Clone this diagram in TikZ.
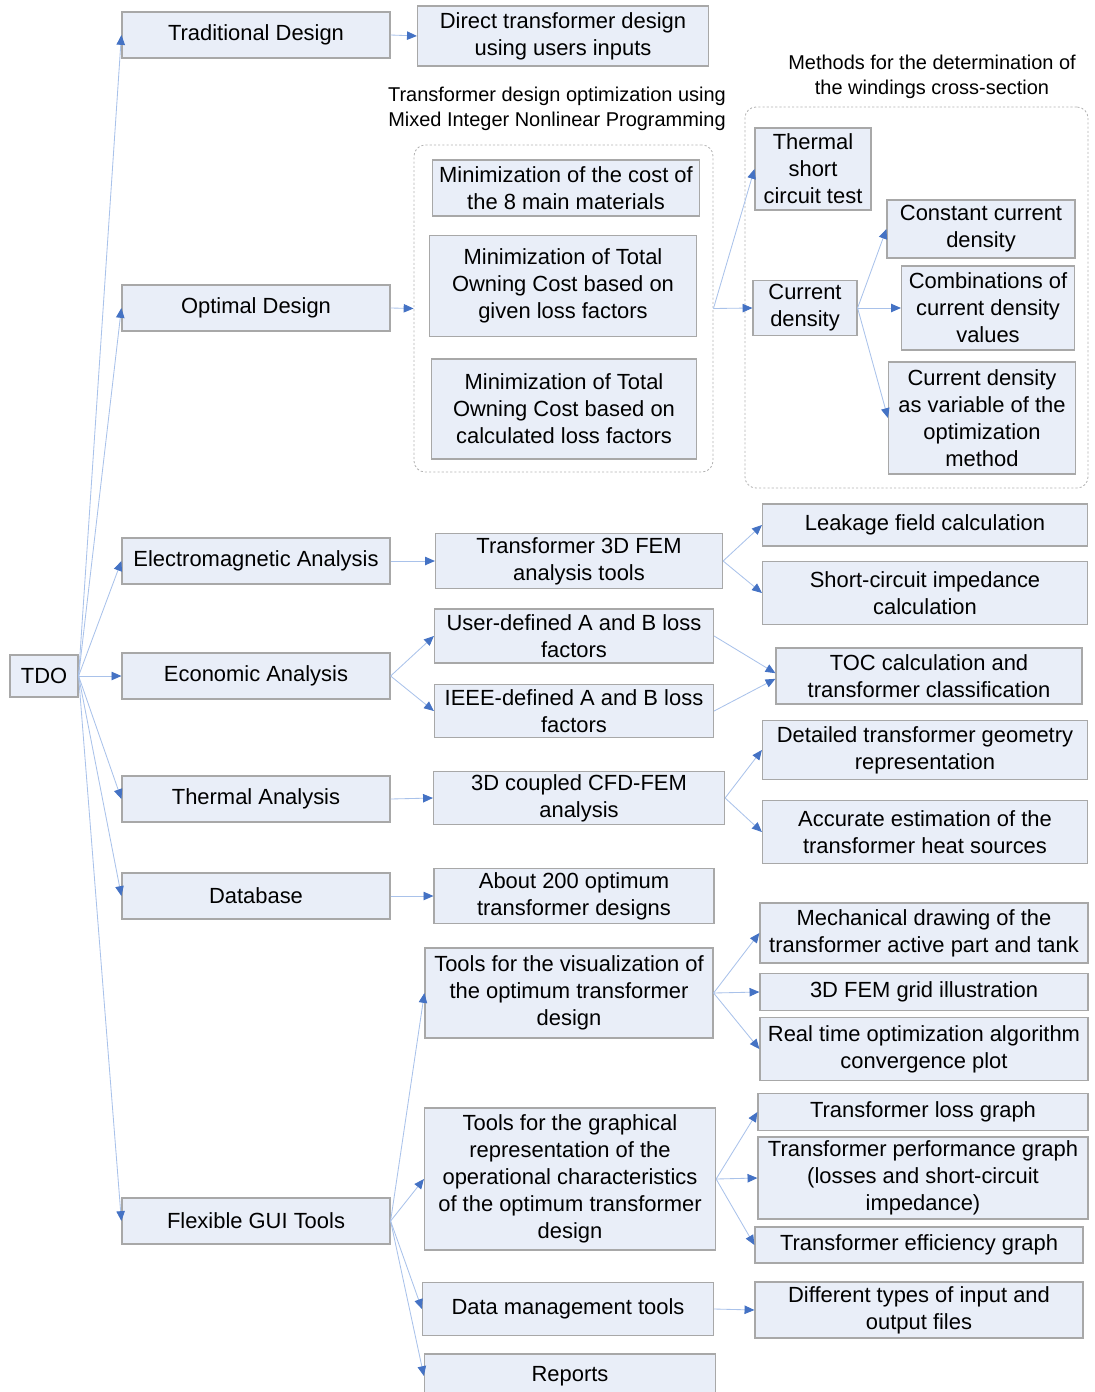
\documentclass[tikz,border=0pt]{standalone}
\usepackage{fontspec}
\setmainfont{Liberation Sans}
\usetikzlibrary{arrows.meta}
\definecolor{boxfill}{HTML}{E9EEF8}
\definecolor{boxline}{HTML}{A8A8A8}
\definecolor{linkblue}{HTML}{A9C2EA}
\definecolor{tipblue}{HTML}{4472C4}

\begin{document}
\begin{tikzpicture}[
    x=0.025cm, y=-0.025cm,
    tdo-box/.style = {draw=boxline, fill=boxfill, line width=0.8pt, align=center, inner sep=0pt, font=\fontsize{15.6}{19.2}\selectfont},
    grp-box/.style = {draw=gray!60, dash pattern=on 1.5pt off 1.5pt, rounded corners=8pt, line width=0.6pt, inner sep=0pt},
    grp-lbl/.style = {align=center, inner sep=0pt, font=\fontsize{14.2}{17.8}\selectfont},
    link/.style = {draw=linkblue, line width=0.6pt, -{Triangle[length=7pt, width=6pt, color=tipblue]}}
  ]
  \useasboundingbox (0,0) rectangle (1094,1392);

  \node[tdo-box, minimum width=1.7cm, minimum height=1.05cm] (tdo) at (44,676) {TDO};

  \node[tdo-box, minimum width=6.7cm, minimum height=1.15cm] (trad) at (256,35) {Traditional Design};
  \node[tdo-box, minimum width=6.7cm, minimum height=1.15cm] (opt) at (256,308) {Optimal Design};
  \node[tdo-box, minimum width=6.7cm, minimum height=1.15cm] (em) at (256,561) {Electromagnetic Analysis};
  \node[tdo-box, minimum width=6.7cm, minimum height=1.15cm] (eco) at (256,676) {Economic Analysis};
  \node[tdo-box, minimum width=6.7cm, minimum height=1.15cm] (therm) at (256,799) {Thermal Analysis};
  \node[tdo-box, minimum width=6.7cm, minimum height=1.15cm] (dbase) at (256,896) {Database};
  \node[tdo-box, minimum width=6.7cm, minimum height=1.15cm] (gui) at (256,1221) {Flexible GUI Tools};

  \node[tdo-box, minimum width=7.275cm, minimum height=1.5cm] (direct) at (563,36) {Direct transformer design\\using users inputs};

  \node[grp-lbl] (lbl-a) at (557,109) {Transformer design optimization using\\Mixed Integer Nonlinear Programming};
  \node[grp-box, minimum width=7.475cm, minimum height=8.175cm] (grp-a) at (563.5,308.5) {};
  \node[tdo-box, minimum width=6.675cm, minimum height=1.4cm] (mincost) at (566,188) {Minimization of the cost of\\the 8 main materials};
  \node[tdo-box, minimum width=6.675cm, minimum height=2.525cm] (togiven) at (563,286) {Minimization of Total\\Owning Cost based on\\given loss factors};
  \node[tdo-box, minimum width=6.625cm, minimum height=2.5cm] (tocalc) at (564,409) {Minimization of Total\\Owning Cost based on\\calculated loss factors};

  \node[grp-lbl] (lbl-b) at (932,77) {Methods for the determination of\\the windings cross-section};
  \node[grp-box, minimum width=8.575cm, minimum height=9.525cm] (grp-b) at (916.5,297.5) {};
  \node[tdo-box, minimum width=2.9cm, minimum height=2.05cm] (thermsc) at (813,169) {Thermal\\short\\circuit test};
  \node[tdo-box, minimum width=2.6cm, minimum height=1.375cm] (curden) at (805,308) {Current\\density};
  \node[tdo-box, minimum width=4.7cm, minimum height=1.45cm] (constcd) at (981,229) {Constant current\\density};
  \node[tdo-box, minimum width=4.325cm, minimum height=2.1cm] (combcd) at (988,308) {Combinations of\\current density\\values};
  \node[tdo-box, minimum width=4.675cm, minimum height=2.8cm] (varcd) at (982,418) {Current density\\as variable of the\\optimization\\method};

  \node[tdo-box, minimum width=7.175cm, minimum height=1.375cm] (fem) at (579,561) {Transformer 3D FEM\\analysis tools};
  \node[tdo-box, minimum width=8.125cm, minimum height=1.05cm] (leak) at (925,525) {Leakage field calculation};
  \node[tdo-box, minimum width=8.125cm, minimum height=1.575cm] (scimp) at (925,593) {Short-circuit impedance\\calculation};

  \node[tdo-box, minimum width=6.975cm, minimum height=1.35cm] (userab) at (574,636) {User-defined A and B loss\\factors};
  \node[tdo-box, minimum width=6.975cm, minimum height=1.325cm] (ieeeab) at (574,711) {IEEE-defined A and B loss\\factors};
  \node[tdo-box, minimum width=7.65cm, minimum height=1.4cm] (toc) at (929,676) {TOC calculation and\\transformer classification};

  \node[tdo-box, minimum width=7.275cm, minimum height=1.325cm] (cfd) at (579,798) {3D coupled CFD-FEM\\analysis};
  \node[tdo-box, minimum width=8.125cm, minimum height=1.475cm] (geom) at (925,750) {Detailed transformer geometry\\representation};
  \node[tdo-box, minimum width=8.125cm, minimum height=1.575cm] (heat) at (925,832) {Accurate estimation of the\\transformer heat sources};

  \node[tdo-box, minimum width=7cm, minimum height=1.375cm] (about) at (574,896) {About 200 optimum\\transformer designs};

  \node[tdo-box, minimum width=7.2cm, minimum height=2.25cm] (vis) at (569,993) {Tools for the visualization of\\the optimum transformer\\design};
  \node[tdo-box, minimum width=8.2cm, minimum height=1.5cm] (mech) at (924,933) {Mechanical drawing of the\\transformer active part and tank};
  \node[tdo-box, minimum width=8.2cm, minimum height=0.925cm] (grid) at (924,992) {3D FEM grid illustration};
  \node[tdo-box, minimum width=8.2cm, minimum height=1.575cm] (conv) at (924,1049) {Real time optimization algorithm\\convergence plot};

  \node[tdo-box, minimum width=7.275cm, minimum height=3.55cm] (graph) at (570,1179) {Tools for the graphical\\representation of the\\operational characteristics\\of the optimum transformer\\design};
  \node[tdo-box, minimum width=8.25cm, minimum height=0.925cm] (lossg) at (923,1112) {Transformer loss graph};
  \node[tdo-box, minimum width=8.25cm, minimum height=2.05cm] (perfg) at (923,1178) {Transformer performance graph\\(losses and short-circuit\\impedance)};
  \node[tdo-box, minimum width=8.2cm, minimum height=0.9cm] (effg) at (919,1245) {Transformer efficiency graph};

  \node[tdo-box, minimum width=7.275cm, minimum height=1.325cm] (dmt) at (568,1309) {Data management tools};
  \node[tdo-box, minimum width=8.2cm, minimum height=1.4cm] (files) at (919,1310) {Different types of input and\\output files};
  \node[tdo-box, minimum width=7.275cm, minimum height=1.1cm] (reports) at (570,1376) {Reports};

  \draw[link] (tdo.east) -- (trad.west);
  \draw[link] (tdo.east) -- (opt.west);
  \draw[link] (tdo.east) -- (em.west);
  \draw[link] (tdo.east) -- (eco.west);
  \draw[link] (tdo.east) -- (therm.west);
  \draw[link] (tdo.east) -- (dbase.west);
  \draw[link] (tdo.east) -- (gui.west);

  \draw[link] (trad.east) -- (direct.west);
  \draw[link] (opt.east) -- (grp-a.west);
  \draw[link] (grp-a.east) -- (thermsc.west);
  \draw[link] (grp-a.east) -- (curden.west);
  \draw[link] (curden.east) -- (constcd.west);
  \draw[link] (curden.east) -- (combcd.west);
  \draw[link] (curden.east) -- (varcd.west);

  \draw[link] (em.east) -- (fem.west);
  \draw[link] (fem.east) -- (leak.west);
  \draw[link] (fem.east) -- (scimp.west);

  \draw[link] (eco.east) -- (userab.west);
  \draw[link] (eco.east) -- (ieeeab.west);
  \draw[link] (userab.east) -- ([yshift=2pt]toc.west);
  \draw[link] (ieeeab.east) -- ([yshift=-2pt]toc.west);

  \draw[link] (therm.east) -- (cfd.west);
  \draw[link] (cfd.east) -- (geom.west);
  \draw[link] (cfd.east) -- (heat.west);

  \draw[link] (dbase.east) -- (about.west);

  \draw[link] (gui.east) -- (vis.west);
  \draw[link] (gui.east) -- (graph.west);
  \draw[link] (gui.east) -- (dmt.west);
  \draw[link] (gui.east) -- (reports.west);
  \draw[link] (vis.east) -- (mech.west);
  \draw[link] (vis.east) -- (grid.west);
  \draw[link] (vis.east) -- (conv.west);
  \draw[link] (graph.east) -- (lossg.west);
  \draw[link] (graph.east) -- (perfg.west);
  \draw[link] (graph.east) -- (effg.west);
  \draw[link] (dmt.east) -- (files.west);
\end{tikzpicture}
\end{document}
